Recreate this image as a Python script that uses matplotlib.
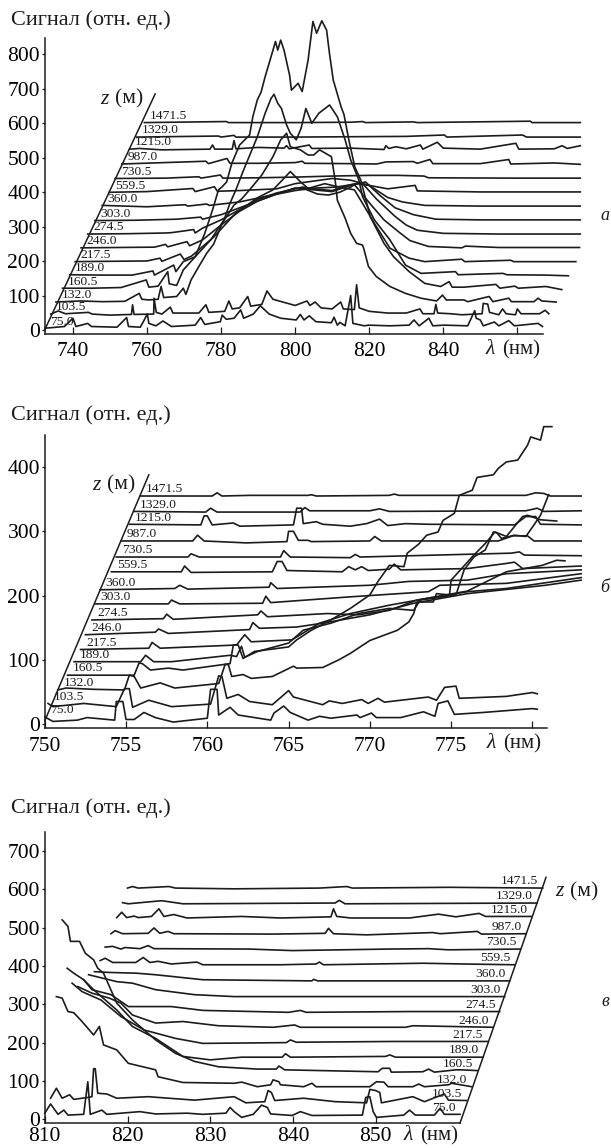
import numpy as np
import matplotlib
matplotlib.use("Agg")
import matplotlib.pyplot as plt

plt.rcParams['font.family'] = ['Liberation Serif', 'DejaVu Serif']

depth_labels = ['75.0', '103.5', '132.0', '160.5', '189.0', '217.5', '246.0', '274.5', '303.0',
                '360.0', '559.5', '730.5', '987.0', '1215.0', '1329.0', '1471.5']
y_title = 'Сигнал (отн. ед.)'

# Panel a: (wavelength as drawn, signal as drawn)
a_75 = [(732.4,6),(737.7,11),(740,35),(740.8,11),(744,20),(745,11),(751.9,9),(754.5,37),(755,11),(758.2,9),(760.1,47),(760.5,20),(762.4,13),(764.3,27),(766.6,11),(773,15),(774.5,37),(775.6,17),(779.8,25),(780.3,44),(781.4,32),(783.5,35),(785.3,59),(786.1,35),(788.7,47),(790.6,71),(793,47),(796.1,35),(800.3,30),(801.4,46),(802.4,30),(803.8,42),(805.6,25),(809.8,22),(810.5,38),(811.4,15),(812.1,23),(813.5,13),(815,101),(815.6,20),(818.7,13),(819.8,15),(825.6,13),(830.8,15),(832.1,30),(833.5,13),(836.1,35),(837.2,13),(840.3,15),(846.6,13),(848.5,57),(848.9,35),(850,30),(850.8,13),(853.8,24),(855,13),(857.7,28),(859.2,13),(865.6,20),(866.8,11)]
a_103 = [(734,47),(736,56),(738,48),(744.2,52),(745.2,47),(750,44),(755.8,46),(756.1,74),(756.5,46),(761.8,47),(761.9,93),(762.5,52),(764,47),(766.3,67),(767,50),(774,50),(775.9,74),(776.7,52),(781,55),(782.1,85),(783,62),(785,65),(787.2,98),(788,70),(791,75),(792.4,114),(794,90),(800,72),(803.2,85),(804,72),(805.4,82),(807,65),(810,62),(812.3,82),(813,62),(816,60),(816.6,132),(817.3,65),(820,55),(825,50),(830,50),(833.7,62),(834.5,48),(837.5,48),(838,75),(838.5,50),(842,48),(845,45),(850.5,48),(850.8,78),(852,76),(852.5,52),(855,45),(856,62),(857,48),(859.5,45),(860,62),(861,48),(866,48),(867.5,58),(868.5,48)]
a_132 = [(735.4,82),(742,85),(748,83),(754,84),(757.9,107),(758.6,90),(760.5,88),(763,90),(763.8,127),(764.5,95),(768,98),(769.8,122),(770.5,104),(771.9,146),(774,185),(776.1,223),(778,250),(780.3,310),(783.5,363),(785.5,380),(787.7,407),(791,450),(794,503),(796.1,552),(797.7,571),(798.7,532),(801.4,523),(803.5,508),(805,508),(806.6,523),(809.8,503),(810.8,436),(811.4,377),(813.5,325),(815,281),(816.6,252),(818.2,247),(818.5,238),(819.8,185),(821.9,156),(825.6,127),(829.8,107),(834,93),(838.2,85),(839.8,102),(840.8,88),(845.6,88),(846.6,83),(852.4,98),(853.4,83),(857.7,93),(858.4,83),(864.5,83),(865.6,93),(866.6,85),(870.5,82)]
a_160 = [(737.2,122),(745,122),(753,124),(759.8,146),(760.5,125),(763,128),(765.6,170),(766,135),(768,130),(769.8,175),(773,213),(775.6,281),(777.7,349),(779.3,407),(780.3,416),(781.5,430),(782.9,484),(785,537),(787.7,566),(788.6,620),(789.8,668),(790.8,690),(791.9,735),(793.5,793),(794.7,837),(795.3,812),(796.1,841),(797,812),(798.2,754),(798.5,740),(799,696),(800.8,716),(801.9,692),(803.5,783),(804.8,895),(805.8,861),(807.2,897),(808.5,870),(809.3,800),(810.3,725),(812.4,648),(813.2,625),(814.5,552),(816.1,474),(817.7,436),(820.3,329),(824,252),(826.6,213),(830.8,170),(835,136),(839.3,127),(841.6,141),(842.4,125),(845.6,125),(854.2,133),(855.3,122),(859.3,128),(860.3,122),(867.7,127),(872,118)]
a_189 = [(739.1,161),(748,160),(756,160),(761.6,172),(762,160),(767.2,189),(767.8,170),(769.8,199),(773,213),(777.2,262),(780.8,320),(782.4,368),(784,407),(786.1,465),(789.8,561),(791.9,629),(793.5,672),(794.3,684),(795.3,658),(796.3,643),(797.7,595),(798.7,571),(800.3,552),(801.6,585),(802.9,643),(804.5,600),(806.4,629),(809.3,653),(811.4,619),(813.5,552),(815,494),(817.2,436),(818.2,387),(821.4,320),(825.6,262),(829.8,189),(834,165),(843.3,170),(844,161),(856.1,165),(857.2,161),(867.7,160),(873.8,158)]
a_217 = [(740.6,199),(750,200),(760,201),(763.5,209),(764,200),(769,221),(770,205),(772,215),(778,270),(784,340),(790,385),(794,407),(796.6,436),(798.7,460),(801.4,431),(803.5,411),(808,425),(812,415),(816,407),(818.2,368),(821.4,310),(825.6,238),(830.8,209),(835,199),(845,206),(845.8,199),(858.2,203),(859,199),(875.8,199)]
a_246 = [(742.2,239),(752,240),(762,241),(765,249),(765.6,242),(770.8,257),(771.5,245),(775,262),(780,305),(785,345),(790,375),(795,395),(800,412),(803,408),(806,395),(809,392),(812,400),(815,415),(816,422),(817.2,407),(820,370),(824,320),(828,285),(831,260),(836,243),(845,239),(846,244),(855,240),(865,240),(876.8,240)]
a_274 = [(744,279),(755,280),(765,282),(766.6,283),(770,288),(772.6,292),(773,282),(775,296),(780,320),(785,350),(790,380),(795,398),(802,415),(805,410),(810,405),(815,422),(818,428),(822,380),(827,330),(830,305),(833,290),(840,281),(855,279),(870,279),(877,279)]
a_303 = [(745.9,318),(757,319),(768,322),(774.5,328),(775,322),(780,335),(785,355),(790,375),(795,395),(800,412),(805,407),(810,402),(815,420),(819,430),(823,390),(827,355),(832,335),(838,322),(850,320),(877,320)]
a_360 = [(747.9,362),(760,358),(770.3,364),(771,360),(776.1,366),(776.8,362),(785,372),(792,388),(800,405),(805,412),(811,415),(817,425),(820,420),(825,385),(829,372),(835,362),(850,360),(877,360)]
a_559 = [(749.8,400),(760,402),(772.4,411),(773,402),(778.2,416),(779,403),(785,405),(795,410),(800,425),(810,440),(815,435),(820,420),(825,410),(832.4,420),(833,404),(850,401),(877,401)]
a_730 = [(751.4,440),(765,441),(774,445),(774.6,441),(779.8,450),(780.5,441),(790,442),(800,444),(810,447),(820,449),(828,449),(834.8,447),(836,442),(860,441),(877,441)]
a_987 = [(753.2,482),(775.9,490),(776.6,483),(781.6,498),(782.4,484),(790,484),(800,486),(801.9,490),(802.6,484),(815,483),(822,482),(824.5,488),(831.9,489),(833,484),(836.4,495),(837.2,483),(850,483),(857.7,495),(858.2,482),(870,485),(877,481)]
a_1215 = [(755.3,525),(758,527),(764,523),(777,525),(777.7,537),(778.3,525),(783,525),(783.5,550),(784,526),(790,530),(797,528),(797.7,535),(798.4,526),(803.8,537),(804.5,527),(815,528),(824,524),(824.5,535),(825.3,527),(827.2,532),(830,526),(833.8,537),(834.5,525),(838.4,545),(840,528),(850,525),(859.6,542),(860.4,525),(870,526),(872.1,535),(873.5,527),(877,535)]
a_1329 = [(757.2,560),(779.3,563),(780,560),(783.5,565),(784,560),(800,560),(830,562),(840.3,566),(841,560),(861.4,566),(862.5,560),(877,560)]
a_1471 = [(759.3,602),(781.4,605),(782,602),(800,602),(815,603),(818.2,605),(819,602),(831.9,604),(833,602),(863.5,606),(864,602),(877,602)]
a_curves = [a_75, a_103, a_132, a_160, a_189, a_217, a_246, a_274, a_303, a_360, a_559, a_730, a_987, a_1215, a_1329, a_1471]
a_yticks = [0, 100, 200, 300, 400, 500, 600, 700, 800]
a_xticks = [740, 760, 780, 800, 820, 840, 860]
a_xlabels = ['740', '760', '780', '800', '820', '840', '']
a_zaxis = [(732.4, 2), (762.2, 685)]

# Panel b
b_75 = [(750,11),(750.5,4),(752,6),(752.6,10),(754.3,6),(754.4,35),(754.8,35),(755,7),(755.5,7),(756.1,18),(756.8,10),(757.9,3),(760,9),(760.2,54),(760.6,54),(760.7,14),(761.4,26),(761.9,14),(763.9,6),(764.1,17),(764.7,28),(765.1,18),(766.2,6),(766.9,12),(767.6,9),(769.2,14),(769.4,10),(770.1,17),(770.4,10),(771.9,10),(773.3,19),(774,12),(774.2,32),(774.8,36),(775.2,15),(777,18),(780,24),(780.3,23)]
b_103 = [(750.2,32),(750.5,27),(752.4,32),(754.4,27),(754.9,55),(755.2,55),(755.4,26),(756.4,37),(757.8,27),(760.2,31),(760.7,75),(760.9,74),(761.2,40),(761.9,46),(762.6,35),(764,30),(765,52),(765.3,42),(767.1,30),(767.5,36),(768.3,32),(769.5,38),(769.9,32),(770.5,40),(770.9,34),(773.6,42),(774.1,37),(774.6,57),(775.3,59),(775.5,40),(778.4,43),(780,49),(780.3,47)]
b_132 = [(750.8,53),(751.3,56),(753,54),(754.9,53),(755.2,76),(755.5,74),(755.9,56),(757.1,64),(758,56),(760.7,63),(761.1,93),(761.3,92),(761.5,74),(762.2,77),(762.7,71),(764,74),(765.3,90),(765.5,87),(767.1,88),(768.1,100),(768.8,110),(770,130),(771.7,146),(772.4,159),(772.7,172),(772.9,190),(773.9,190),(774.1,203),(774.9,201),(775,224),(776.4,263),(777.1,281),(777.7,299),(778.4,292),(779.4,323),(779.7,325),(780.5,318),(781.5,316)]
b_160 = [(751.4,76),(755.5,76),(755.8,95),(756,94),(756.5,84),(757.6,87),(758.5,84),(761.4,94),(761.6,123),(761.9,123),(762.2,102),(762.9,113),(765,120),(765.5,131),(766.4,146),(767.6,162),(768.8,180),(770,201),(770.5,222),(770.7,229),(771.2,247),(772.1,245),(772.3,266),(773,280),(773.5,294),(774.2,299),(774.5,317),(775.2,328),(775.5,356),(776.3,364),(776.6,384),(777.6,388),(777.9,398),(778.4,408),(779.1,411),(779.7,434),(779.9,447),(780.5,442),(780.7,463),(781.2,463)]
b_189 = [(751.8,97),(755.9,97),(756.2,107),(756.7,97),(757.8,97),(761.4,107),(761.8,105),(762.1,121),(762.3,104),(763.1,113),(765,126),(765.9,146),(767.6,157),(769.3,172),(771.2,180),(772.7,177),(773.1,193),(775.3,201),(775.8,240),(776.4,260),(777.1,271),(777.6,299),(777.8,298),(778.1,289),(778.9,294),(779.6,292),(780.1,310),(780.5,325),(781,357)]
b_217 = [(752.2,116),(756.4,118),(756.6,127),(757.1,118),(761.8,123),(762.3,139),(762.7,128),(765.2,131),(766.9,157),(768.8,172),(771.2,185),(773.6,196),(776,207),(778.4,237),(780.6,247),(781.5,255),(782,254)]
b_246 = [(752.5,139),(756.8,143),(757,148),(757.6,141),(762.6,147),(762.8,158),(763.2,149),(765.5,151),(767.1,157),(770,170),(772.7,188),(776,203),(780.8,216),(783,224)]
b_274 = [(752.9,162),(757.3,164),(757.5,171),(757.9,163),(763.1,170),(763.3,176),(763.7,167),(767.4,172),(769.3,170),(771.2,177),(772.9,193),(776,206),(778.4,211),(783,228)]
b_303 = [(753.1,187),(757.6,187),(757.8,193),(758.3,187),(763.4,188),(763.6,199),(763.9,189),(768.8,198),(773.6,206),(774.3,216),(778.4,219),(783,234)]
b_360 = [(753.4,209),(758,211),(758.3,216),(758.8,210),(763.8,213),(763.9,220),(764.3,211),(770,216),(772.4,222),(776,224),(778.4,234),(783,240)]
b_559 = [(754.1,237),(758.4,237),(758.6,246),(759,236),(764,237),(764.3,253),(764.6,253),(764.9,239),(768.3,237),(768.7,245),(769.1,240),(769.5,245),(769.9,239),(771.2,241),(771.5,249),(771.9,240),(776,242),(778.4,250),(778.9,252),(779.4,242),(783,246)]
b_730 = [(754.4,260),(758.8,260),(759,265),(759.5,260),(764.5,260),(764.7,270),(765.1,260),(768.8,259),(769.1,264),(769.4,260),(778.7,266),(779.2,268),(779.5,263),(783,262)]
b_987 = [(754.7,285),(759.1,285),(759.4,294),(759.8,285),(762.4,282),(764.9,284),(765,300),(765.3,300),(765.6,286),(766.2,286),(766.4,284),(770,285),(770.3,292),(770.7,285),(777.9,285),(778.8,293),(779.7,293),(780.1,285),(783,285)]
b_1215 = [(755.2,311),(759.6,310),(759.8,324),(760,324),(760.3,310),(761.6,313),(762,308),(765.3,310),(765.5,336),(765.8,336),(765.9,312),(766.7,315),(767.1,311),(768.8,308),(769.8,312),(770.6,319),(771.1,309),(772.2,312),(773.6,311),(778.9,310),(779.6,323),(780.2,323),(780.5,311),(783,310)]
b_1329 = [(755.5,331),(759.9,330),(760.2,336),(760.6,330),(765.7,330),(766,337),(766.3,332),(770,332),(770.6,335),(771.2,331),(779.6,332),(780.3,336),(780.7,331),(783,332)]
b_1471 = [(755.9,355),(760.3,355),(760.6,360),(760.9,355),(762.6,356),(766.2,356),(766.4,357),(766.7,355),(771.2,356),(771.5,358),(771.8,356),(779.6,356),(780.2,360),(780.7,359),(781.1,355),(783,355)]
b_curves = [b_75, b_103, b_132, b_160, b_189, b_217, b_246, b_274, b_303, b_360, b_559, b_730, b_987, b_1215, b_1329, b_1471]
b_yticks = [0, 100, 200, 300, 400]
b_xticks = [750, 755, 760, 765, 770, 775, 780]
b_xlabels = ['750', '755', '760', '765', '770', '775', '']
b_zaxis = [(750, 5), (756.4, 388)]

# Panel c
c_75 = [(810,16),(810.7,40),(811.6,13),(812.3,24),(812.8,11),(814.7,13),(815.2,98),(815.5,13),(816.9,24),(817.5,13),(821.5,20),(823.4,14),(827.2,16),(829.1,13),(831.9,16),(832.4,31),(832.9,20),(833.8,5),(835.2,13),(836.2,37),(836.9,31),(837.3,14),(839.9,10),(840.9,20),(842.3,10),(848.4,11),(848.8,57),(849.3,59),(849.7,20),(850.1,5),(853.4,11),(854.1,24),(854.8,11),(857.1,11),(857.8,29),(858.3,13),(860.2,13)]
c_103 = [(810.7,55),(811.4,81),(812.1,55),(813,64),(813.5,52),(815.2,57),(815.7,59),(815.9,132),(816.1,132),(816.4,68),(817.5,66),(818.7,55),(822.5,59),(828.1,50),(832.9,59),(834.3,43),(836.6,46),(837,75),(837.4,70),(837.8,49),(841.3,55),(845.1,46),(848.9,43),(849.3,78),(850,75),(850.5,70),(850.7,43),(854.5,59),(855.9,46),(858.3,66),(858.8,50),(861,49)]
c_132 = [(811.4,320),(812.1,316),(812.8,281),(813.5,278),(814.5,255),(815.9,220),(816.6,242),(817.1,194),(818.7,181),(820.1,146),(823.4,129),(823.7,111),(826.7,96),(832.9,94),(833.8,97),(835.7,85),(837.3,90),(837.6,103),(838.3,98),(838.5,90),(841.3,85),(842.3,94),(842.8,85),(849.3,85),(850.1,98),(851,97),(851.5,85),(854.5,85),(855.2,92),(855.9,85),(858.8,90),(859.2,94),(861.6,85)]
c_160 = [(812.1,520),(812.8,503),(813.1,464),(814.2,464),(814.9,433),(815.9,416),(816.4,394),(817.1,381),(818.7,303),(820.6,259),(823.4,207),(825.8,172),(828.1,151),(831,137),(835.7,131),(838,131),(838.3,139),(839,129),(850.3,124),(850.8,133),(851.7,133),(851.9,123),(855.7,124),(856.4,131),(857.1,123),(859.7,129),(860.4,129),(862.3,127)]
c_189 = [(812.7,394),(813.5,381),(814.7,364),(815.9,338),(818.7,285),(820.6,242),(823.4,211),(826.7,164),(830,155),(833.8,162),(838.7,162),(839.1,171),(839.7,162),(851.2,164),(851.7,168),(852.4,162),(863,162)]
c_217 = [(813.3,355),(814.5,333),(816.8,311),(819.2,268),(822,233),(825.8,211),(829.1,198),(839.2,200),(839.7,207),(840.4,201),(852.2,203),(863.5,203)]
c_246 = [(814,346),(815.7,329),(817.8,316),(819.2,303),(820.6,272),(823.4,251),(826.7,255),(831,244),(837.6,240),(840.2,246),(840.9,240),(853.6,240),(854.5,244),(864.2,240)]
c_274 = [(814.7,364),(815.7,338),(818,325),(820.1,294),(823.4,294),(825.3,294),(829.1,284),(839.5,279),(840.9,284),(841.6,279),(854.1,281),(865,281)]
c_303 = [(815.3,377),(818.7,359),(820.6,355),(823.4,338),(828.1,325),(832.9,320),(865.6,320)]
c_360 = [(816,385),(817.8,383),(821.1,381),(823.4,377),(829.1,364),(842.3,361),(842.5,365),(843,361),(866.2,361)]
c_559 = [(816.7,414),(817.3,420),(818.2,409),(821,409),(821.9,422),(822.7,409),(823.7,412),(825.3,405),(828.4,410),(829.1,403),(838.5,403),(842.8,405),(843.2,410),(843.7,403),(855.7,407),(860.7,405),(866.8,403)]
c_730 = [(817.3,449),(818.2,451),(819.2,444),(819.7,448),(821.5,445),(822.5,453),(823.2,445),(834.7,444),(839.9,440),(851.7,444),(856.4,445),(858.8,442),(867.5,444)]
c_987 = [(818,484),(818.5,492),(819.4,484),(822.5,485),(823.2,499),(823.9,485),(824.9,490),(825.6,484),(837.6,483),(843.9,485),(844.3,498),(844.9,484),(848.9,481),(856.9,487),(857.8,484),(862.3,490),(862.8,483),(868.2,484)]
c_1215 = [(818.7,526),(819.3,540),(819.9,526),(820.8,530),(821.3,526),(822.9,529),(823.8,549),(824.4,529),(825.6,534),(827.2,525),(833.8,529),(838.5,525),(844.6,528),(844.9,549),(845.3,529),(847,525),(854.1,525),(857.6,535),(859.7,528),(862.5,537),(863.3,529),(868.9,529)]
c_1329 = [(819.4,565),(820.1,562),(824.1,570),(824.8,568),(826.7,562),(845.1,564),(845.6,571),(846.3,562),(869.5,564)]
c_1471 = [(820,603),(820.6,607),(821.3,603),(825,607),(825.8,603),(832.9,601),(843.2,603),(846.5,607),(847.2,603),(858.8,605),(870.2,603)]
c_curves = [c_75, c_103, c_132, c_160, c_189, c_217, c_246, c_274, c_303, c_360, c_559, c_730, c_987, c_1215, c_1329, c_1471]
c_yticks = [0, 100, 200, 300, 400, 500, 600, 700]
c_xticks = [810, 820, 830, 840, 850]
c_xlabels = ['810', '820', '830', '840', '850']
c_zaxis = [(860.2, -10), (870.6, 631)]

W, H = 611, 1148
fig = plt.figure(figsize=(W / 100, H / 100), dpi=100)
INK = '#1c1c1c'


def panel(box, xlim, ylim, curves, xticks, xlabels, yticks, zaxis, right_labels=False, xpad=6):
    l, t, r, b = box
    ax = fig.add_axes([l / W, 1 - b / H, (r - l) / W, (b - t) / H])
    ax.set_xlim(*xlim)
    ax.set_ylim(*ylim)
    ax.patch.set_alpha(0)
    for s in ('top', 'right'):
        ax.spines[s].set_visible(False)
    for s in ('left', 'bottom'):
        ax.spines[s].set_linewidth(1.1)
        ax.spines[s].set_color(INK)
    ax.set_xticks(xticks)
    ax.set_xticklabels(xlabels)
    ax.set_yticks(yticks)
    ax.tick_params(axis='x', direction='in', length=5, width=0.9, labelsize=15.5, pad=xpad, color=INK)
    ax.tick_params(axis='y', direction='out', length=2.5, width=0.9, labelsize=15.5, pad=1, color=INK)
    z = np.array(zaxis)
    ax.plot(z[:, 0], z[:, 1], color=INK, lw=1.1, clip_on=False)
    for c, lab in zip(curves, depth_labels):
        p = np.array(c)
        ax.plot(p[:, 0], p[:, 1], color=INK, lw=1.2, clip_on=False, solid_joinstyle='round')
        if right_labels:
            ax.annotate(lab, (p[-1, 0], p[-1, 1]), xytext=(-3, 0.5), textcoords='offset points',
                        ha='right', va='bottom', fontsize=9.7, color=INK, annotation_clip=False)
        else:
            ax.annotate(lab, (p[0, 0], p[0, 1]), xytext=(4, 0.5), textcoords='offset points',
                        ha='left', va='bottom', fontsize=9.7, color=INK, annotation_clip=False)
    return ax


panel((44.8, 37.7, 542.5, 334), (732.4, 866.8), (-10.7, 848), a_curves, a_xticks, a_xlabels, a_yticks, a_zaxis)
panel((44.8, 435, 547, 728.3), (750, 780.9), (-6.7, 450), b_curves, b_xticks, b_xlabels, b_yticks, b_zaxis)
panel((44.8, 831.7, 460, 1123.3), (810, 860.2), (-10.4, 750), c_curves, c_xticks, c_xlabels, c_yticks, c_zaxis, True, xpad=3)


def label(x, y, s, **kw):
    fig.text(x / W, 1 - y / H, s, color=INK, va='center', **kw)


for y in (20, 415, 808):
    label(11, y, y_title, fontsize=16, ha='left')
for xz, y in ((100, 99), (92, 485), (555, 892)):
    label(xz, y, 'z', fontsize=15.5, style='italic', ha='left')
    label(xz + 15, y, '(м)', fontsize=15.5, ha='left')
for xl, y in ((486, 350), (487, 744), (404, 1136)):
    label(xl, y, 'λ', fontsize=15.5, style='italic', ha='left')
    label(xl + 16, y, '(нм)', fontsize=15, ha='left')
for s, y in (('а', 215), ('б', 588), ('в', 1002)):
    label(605, y, s, fontsize=13, style='italic', ha='center')

fig.savefig('out.png', dpi=100)
